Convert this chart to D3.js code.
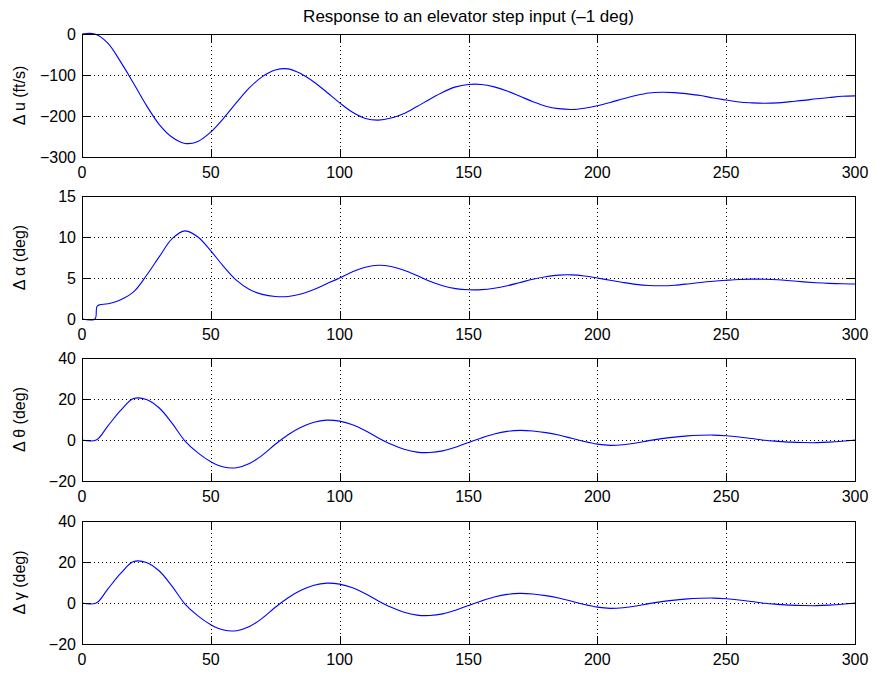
<!DOCTYPE html>
<html><head><meta charset="utf-8">
<script src="https://cdn.jsdelivr.net/npm/d3@7/dist/d3.min.js"></script>
<style>body{margin:0;background:#fff} text{font-family:"Liberation Sans",Arial,Helvetica,sans-serif;fill:#000}</style>
</head><body>
<svg id="c" width="875" height="675"></svg>
<script>
const chartTitle = "Response to an elevator step input (–1 deg)";
const xTicks = [0, 50, 100, 150, 200, 250, 300];

const timeU = [0,5,10,15,20,25,30,35,40,45,50,55,60,65,70,75,80,85,90,95,100,105,110,115,120,125,130,135,140,145,150,155,160,165,170,175,180,185,190,195,200,205,210,215,220,225,230,235,240,245,250,255,260,265,270,275,280,285,290,295,300];
const deltaU = [0,0,-22,-68,-120,-174,-221,-252,-267,-262,-239,-205,-167,-131,-104,-88,-85,-97,-117,-142,-168,-191,-206,-210,-205,-194,-177,-159,-142,-129,-123,-123,-129,-139,-152,-165,-176,-182,-184,-181,-175,-167,-158,-150,-144,-142,-143,-146,-150,-156,-161,-166,-168,-169,-168,-165,-162,-158,-155,-152,-151];

const timeA = [0,5,6,10,15,20,25,30,35,40,45,50,55,60,65,70,75,80,85,90,95,100,105,110,115,120,125,130,135,140,145,150,155,160,165,170,175,180,185,190,195,200,205,210,215,220,225,230,235,240,245,250,255,260,265,270,275,280,285,290,295,300];
const deltaAlpha = [0,0,1.6,1.85,2.35,3.3,5.3,7.6,9.8,10.75,10.0,8.3,6.4,4.7,3.6,3.0,2.75,2.75,3.05,3.6,4.3,5.0,5.75,6.3,6.55,6.4,5.95,5.3,4.6,4.05,3.7,3.57,3.58,3.75,4.05,4.45,4.85,5.15,5.35,5.38,5.25,5.0,4.72,4.45,4.22,4.08,4.05,4.12,4.27,4.45,4.6,4.72,4.82,4.86,4.85,4.78,4.66,4.53,4.42,4.34,4.29,4.27];

const timeT = [0,5.5,10,15,20,25,30,35,40,45,50,55,60,65,70,75,80,85,90,95,100,105,110,115,120,125,130,135,140,145,150,155,160,165,170,175,180,185,190,195,200,205,210,215,220,225,230,235,240,245,250,255,260,265,270,275,280,285,290,295,300];
const deltaTheta = [0,0,6.8,14.4,20.2,19.8,15.6,8.1,-0.5,-6.3,-10.6,-13.2,-13.5,-11.5,-7.4,-2.1,2.6,6.2,8.7,9.7,9.2,7.4,4.5,1.0,-2.1,-4.5,-5.9,-6.1,-5.3,-3.5,-1.2,1.0,2.9,4.2,4.7,4.4,3.6,2.4,0.85,-0.75,-2.0,-2.6,-2.3,-1.5,-0.3,0.66,1.4,2.0,2.3,2.4,2.1,1.5,0.7,-0.15,-0.65,-1.05,-1.25,-1.3,-1.05,-0.6,0.0];
const deltaGamma = [0,0,6.8,14.4,20.2,19.8,15.6,8.1,-0.5,-6.3,-10.6,-13.2,-13.5,-11.5,-7.4,-2.1,2.6,6.2,8.7,9.7,9.2,7.4,4.5,1.0,-2.1,-4.5,-5.9,-6.1,-5.3,-3.5,-1.2,1.0,2.9,4.2,4.7,4.4,3.6,2.4,0.85,-0.75,-2.0,-2.6,-2.3,-1.5,-0.3,0.66,1.4,2.0,2.3,2.4,2.1,1.5,0.7,-0.15,-0.65,-1.05,-1.25,-1.3,-1.05,-0.6,0.0];

const yLabels = ["Δ u (ft/s)", "Δ α (deg)", "Δ θ (deg)", "Δ γ (deg)"];
const yDomains = [[-300, 0], [0, 15], [-20, 40], [-20, 40]];
const yTickSets = [[-300,-200,-100,0],[0,5,10,15],[-20,0,20,40],[-20,0,20,40]];
const seriesTimes = [timeU, timeA, timeT, timeT];
const seriesVals = [deltaU, deltaAlpha, deltaTheta, deltaGamma];

const W = 875, H = 675;
const L = 82, R = 855, PH = 123;
const tops = [34, 196, 358, 521];
const FS = 16;
const cr = v => Math.round(v) + 0.5;

const svg = d3.select("#c");
svg.append("rect").attr("width", W).attr("height", H).attr("fill", "#fff");

const x = d3.scaleLinear().domain([0, 300]).range([L, R]);

svg.append("text").attr("x", (L + R) / 2).attr("y", 22).attr("text-anchor", "middle")
  .attr("font-size", 17).text(chartTitle);

yLabels.forEach((lab, i) => {
  const top = tops[i], bot = top + PH;
  const y = d3.scaleLinear().domain(yDomains[i]).range([bot, top]);
  const g = svg.append("g");
  const xt = xTicks, yt = yTickSets[i];
  // grid
  xt.forEach(v => {
    if (v > 0 && v < 300) g.append("line").attr("x1", cr(x(v))).attr("x2", cr(x(v)))
      .attr("y1", top).attr("y2", bot).attr("stroke", "#000").attr("stroke-width", 1)
      .attr("stroke-dasharray", "1,3");
  });
  yt.forEach(v => {
    const yy = cr(y(v));
    if (v > yDomains[i][0] && v < yDomains[i][1]) g.append("line").attr("x1", L).attr("x2", R)
      .attr("y1", yy).attr("y2", yy).attr("stroke", "#000").attr("stroke-width", 1)
      .attr("stroke-dasharray", "1,3");
  });
  // data line
  const pts = seriesTimes[i].map((t, k) => [t, seriesVals[i][k]]);
  g.append("path").datum(pts)
    .attr("d", d3.line().x(d => x(d[0])).y(d => y(d[1])).curve(d3.curveCatmullRom.alpha(0.5)))
    .attr("fill", "none").attr("stroke", "#0000ff").attr("stroke-width", 1.1);
  // ticks (inward, all sides)
  const tl = 8;
  xt.forEach(v => {
    const xx = cr(x(v));
    g.append("line").attr("x1", xx).attr("x2", xx).attr("y1", bot).attr("y2", bot - tl).attr("stroke", "#000");
    g.append("line").attr("x1", xx).attr("x2", xx).attr("y1", top).attr("y2", top + tl).attr("stroke", "#000");
    g.append("text").attr("x", x(v)).attr("y", bot + 21).attr("text-anchor", "middle")
      .attr("font-size", FS).text(d3.format("d")(v));
  });
  yt.forEach(v => {
    const yy = cr(y(v));
    g.append("line").attr("x1", L).attr("x2", L + tl).attr("y1", yy).attr("y2", yy).attr("stroke", "#000");
    g.append("line").attr("x1", R - tl).attr("x2", R).attr("y1", yy).attr("y2", yy).attr("stroke", "#000");
    g.append("text").attr("x", L - 6).attr("y", y(v)).attr("dy", "0.36em").attr("text-anchor", "end")
      .attr("font-size", FS).text(d3.format("d")(v));
  });
  // frame
  g.append("rect").attr("x", cr(L)).attr("y", cr(top)).attr("width", Math.round(R) - Math.round(L))
    .attr("height", Math.round(bot) - Math.round(top)).attr("fill", "none").attr("stroke", "#000");
  // y label
  g.append("text").attr("transform", `translate(25,${(top + bot) / 2}) rotate(-90)`)
    .attr("text-anchor", "middle").attr("font-size", FS).text(lab);
});
</script>
</body></html>
